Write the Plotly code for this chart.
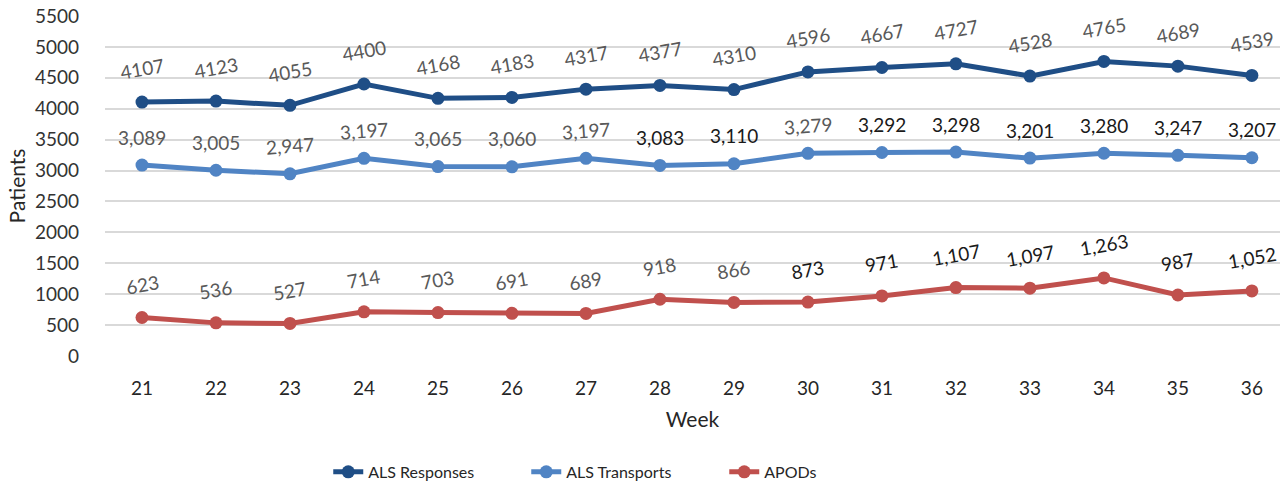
import plotly.graph_objects as go

weeks = ["21", "22", "23", "24", "25", "26", "27", "28", "29", "30", "31", "32", "33", "34", "35", "36"]
als_responses = [4107, 4123, 4055, 4400, 4168, 4183, 4317, 4377, 4310, 4596, 4667, 4727, 4528, 4765, 4689, 4539]
als_transports = [3089, 3005, 2947, 3197, 3065, 3060, 3197, 3083, 3110, 3279, 3292, 3298, 3201, 3280, 3247, 3207]
apods = [623, 536, 527, 714, 703, 691, 689, 918, 866, 873, 971, 1107, 1097, 1263, 987, 1052]

# label styling (angle, dark?) per point
resp_angle = [-10] * 16
resp_dark = [False] * 16
trans_angle = [0, 0, -4, -4, 0, 0, -4, 0, 0, -4, 0, 0, 0, 0, 0, 0]
trans_dark = [False, False, False, False, False, False, False, True, True, False, True, True, True, True, True, True]
apod_angle = [-10] * 16
apod_dark = [False] * 9 + [True] * 7

GREY = "#595959"
DARK = "#1a1a1a"
FONT = "Lato"

series = [
    ("ALS Responses", als_responses, "#1F4E86", "{:d}", resp_angle, resp_dark, 34),
    ("ALS Transports", als_transports, "#5084C4", "{:,d}", trans_angle, trans_dark, 28),
    ("APODs", apods, "#C0504D", "{:,d}", apod_angle, apod_dark, 33),
]

fig = go.Figure()
annotations = []
for name, vals, color, fmt, angles, darks, shift in series:
    fig.add_trace(go.Scatter(
        x=weeks, y=vals, name=name, mode="lines+markers",
        line=dict(color=color, width=5),
        marker=dict(color=color, size=13),
    ))
    for i, (v, a, d) in enumerate(zip(vals, angles, darks)):
        annotations.append(dict(
            x=i, y=v, xref="x", yref="y", text=fmt.format(v), showarrow=False,
            yshift=shift, textangle=a,
            font=dict(family=FONT, size=19, color=DARK if d else GREY),
        ))

fig.update_layout(
    width=1280, height=485,
    paper_bgcolor="white", plot_bgcolor="white",
    margin=dict(l=105, r=0, t=16, b=129, autoexpand=False),
    font=dict(family=FONT, size=19, color="#333333"),
    annotations=annotations,
    showlegend=True,
    legend=dict(orientation="h", x=0.19, y=-0.341, xanchor="left", yanchor="middle",
                entrywidth=153, entrywidthmode="pixels",
                font=dict(family=FONT, size=16, color="#262626")),
    xaxis=dict(type="category", range=[-0.5, 15.38], showgrid=False,
               showline=False, ticks="", tickfont=dict(size=19, color="#262626"),
               ticklabelstandoff=19,
               title=dict(text="Week", font=dict(size=21, color="#262626"), standoff=14)),
    yaxis=dict(range=[0, 5500], dtick=500, showgrid=True, gridcolor="#D9D9D9",
               gridwidth=2, zeroline=False, showline=False, ticks="",
               tickfont=dict(size=19, color="#333333"), ticklabelstandoff=25,
               title=dict(text="Patients", font=dict(size=21, color="#262626"), standoff=3)),
)

fig.write_html("out.html", config={"displayModeBar": False},
               post_script="document.body.style.margin='0';")
